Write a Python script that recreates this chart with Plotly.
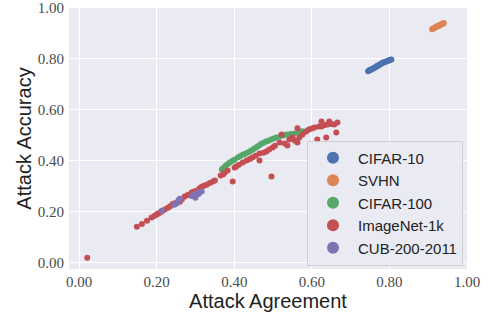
import plotly.graph_objects as go

# CIFAR-10
c10_x = [0.745,0.748,0.750,0.752,0.755,0.757,0.760,0.762,0.765,0.767,0.770,0.772,0.775,0.777,0.780,0.782,0.785,0.788,0.790,0.793,0.795,0.798,0.800,0.803,0.805]
c10_y = [0.752,0.755,0.757,0.758,0.761,0.762,0.765,0.766,0.769,0.771,0.773,0.775,0.777,0.780,0.782,0.785,0.786,0.788,0.789,0.791,0.792,0.794,0.795,0.797,0.798]

# SVHN
svhn_x = [0.910,0.912,0.914,0.916,0.918,0.920,0.922,0.924,0.926,0.928,0.930,0.932,0.934,0.936,0.938,0.940]
svhn_y = [0.917,0.919,0.921,0.922,0.924,0.925,0.927,0.928,0.930,0.931,0.932,0.934,0.936,0.937,0.939,0.941]

# CIFAR-100
c100_x = [0.368,0.372,0.378,0.384,0.388,0.395,0.400,0.409,0.415,0.422,0.428,0.435,0.440,0.446,0.452,0.458,0.464,0.470,0.476,0.482,0.488,0.495,0.502,0.509,0.518,0.527,0.535,0.545,0.555,0.565,0.575,0.589]
c100_y = [0.366,0.372,0.382,0.388,0.394,0.400,0.405,0.413,0.418,0.424,0.428,0.433,0.437,0.443,0.449,0.455,0.461,0.467,0.471,0.476,0.479,0.484,0.488,0.492,0.496,0.500,0.504,0.506,0.508,0.512,0.516,0.520]

# ImageNet-1k
in_x = [0.021,0.149,0.162,0.175,0.187,0.195,0.200,0.203,0.208,0.214,0.221,0.229,0.235,0.242,0.250,0.260,0.265,0.272,0.280,0.290,0.296,0.303,0.310,0.316,0.322,0.329,0.337,0.345,0.350,0.365,0.372,0.375,0.383,0.396,0.401,0.405,0.412,0.422,0.432,0.440,0.447,0.455,0.465,0.465,0.475,0.483,0.490,0.496,0.499,0.505,0.517,0.522,0.530,0.537,0.542,0.550,0.556,0.563,0.563,0.568,0.576,0.585,0.594,0.600,0.607,0.614,0.618,0.625,0.625,0.632,0.637,0.640,0.645,0.650,0.658,0.663,0.666]
in_y = [0.020,0.142,0.153,0.165,0.178,0.185,0.190,0.193,0.197,0.203,0.209,0.216,0.222,0.232,0.236,0.240,0.250,0.260,0.266,0.276,0.280,0.283,0.292,0.299,0.303,0.307,0.313,0.319,0.323,0.343,0.348,0.354,0.362,0.319,0.374,0.378,0.385,0.394,0.402,0.408,0.413,0.420,0.402,0.429,0.432,0.437,0.445,0.339,0.453,0.460,0.472,0.504,0.468,0.461,0.484,0.492,0.480,0.528,0.472,0.492,0.504,0.515,0.524,0.527,0.531,0.484,0.535,0.555,0.535,0.540,0.492,0.543,0.555,0.545,0.543,0.512,0.551]

# CUB-200-2011
cub_x = [0.213,0.245,0.250,0.252,0.255,0.257,0.260,0.290,0.295,0.300,0.305,0.308,0.311,0.316]
cub_y = [0.205,0.228,0.232,0.236,0.240,0.248,0.252,0.262,0.268,0.256,0.272,0.270,0.278,0.280]

series = [
    ("CIFAR-10", c10_x, c10_y, "#4C72B0"),
    ("SVHN", svhn_x, svhn_y, "#DD8452"),
    ("CIFAR-100", c100_x, c100_y, "#55A868"),
    ("ImageNet-1k", in_x, in_y, "#C44E52"),
    ("CUB-200-2011", cub_x, cub_y, "#8172B3"),
]

tick_vals = [0.0, 0.2, 0.4, 0.6, 0.8, 1.0]
tick_text = ["0.00", "0.20", "0.40", "0.60", "0.80", "1.00"]

fig = go.Figure()
for name, xs, ys, col in series:
    fig.add_trace(go.Scatter(x=xs, y=ys, mode="markers", name=name,
                             marker=dict(color=col, size=6, line=dict(width=0))))

axis_common = dict(showgrid=True, gridcolor="white", gridwidth=1, zeroline=False,
                   showline=False, ticks="", tickvals=tick_vals, ticktext=tick_text,
                   automargin=False,
                   tickfont=dict(family="Liberation Serif", size=15, color="#4a4a4a"),
                   title_font=dict(family="Liberation Sans", size=20, color="#222"))

fig.update_layout(
    width=489, height=315,
    margin=dict(l=69, r=22, t=8, b=46),
    paper_bgcolor="white", plot_bgcolor="#EAEAF2",
    xaxis=dict(range=[-0.026, 1.0], ticklabelstandoff=2,
               title=dict(text="Attack Agreement", standoff=0), **axis_common),
    yaxis=dict(range=[-0.024, 1.0], ticklabelstandoff=4,
               title=dict(text="Attack Accuracy", standoff=0), **axis_common),
    legend=dict(x=0.598, y=0.492, xanchor="left", yanchor="top",
                bgcolor="rgba(234,234,242,0.85)", bordercolor="#d0d0d0", borderwidth=1,
                font=dict(family="Liberation Sans", size=15, color="#222"),
                itemsizing="constant", tracegroupgap=0, itemwidth=40),
    showlegend=True,
)

fig.write_html("out.html", config={"displayModeBar": False},
               post_script="document.body.style.margin='0';document.body.style.overflow='hidden';")
